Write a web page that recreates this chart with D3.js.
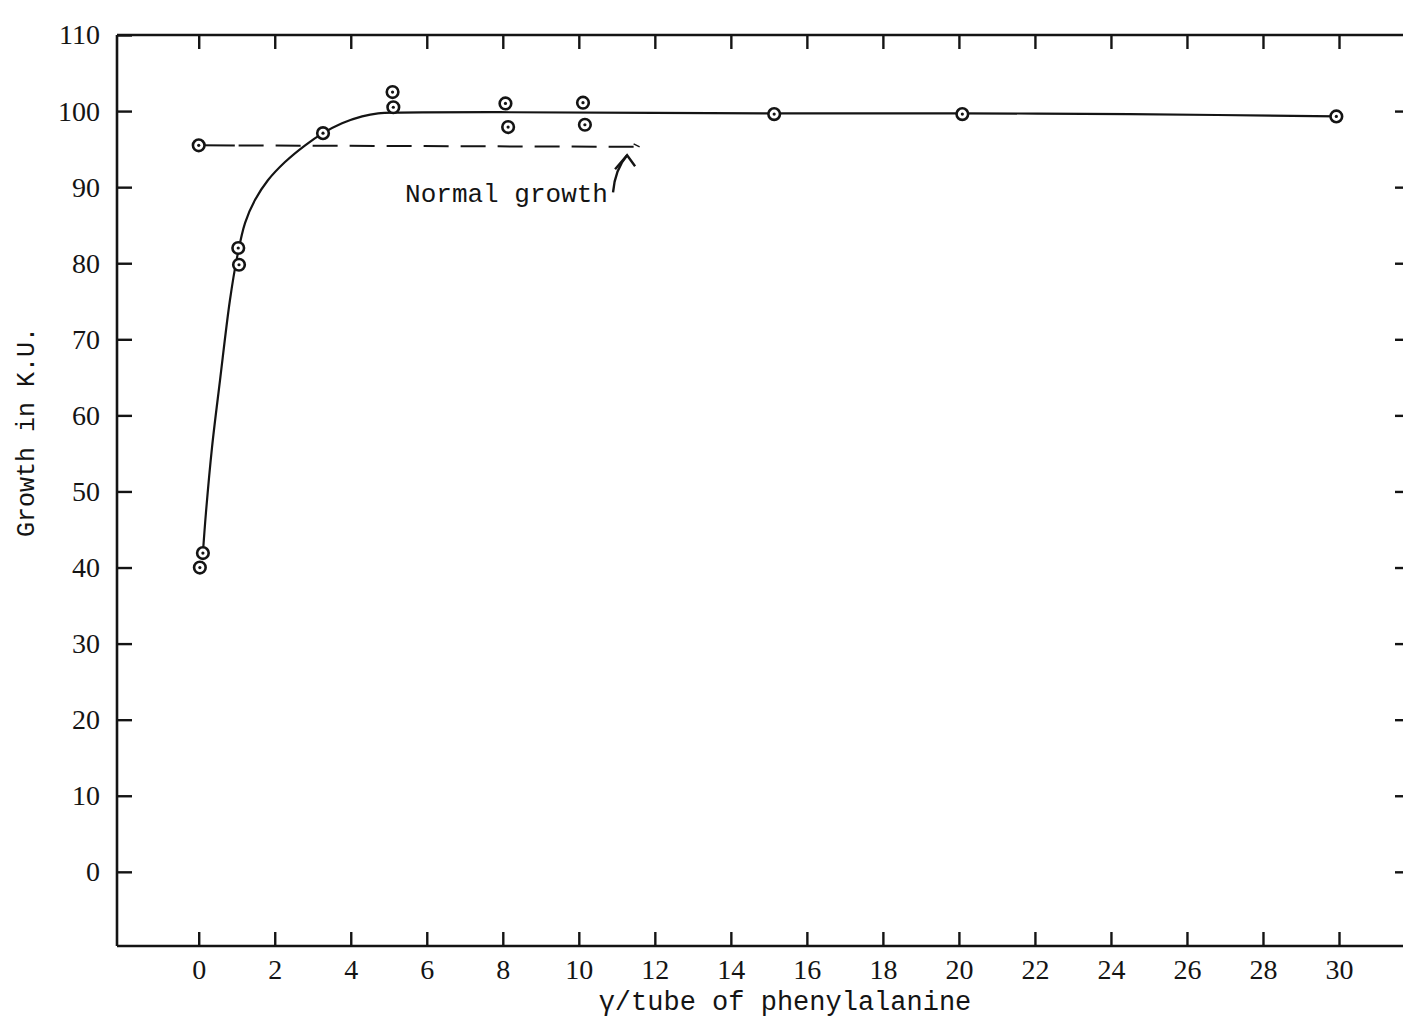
<!DOCTYPE html>
<html>
<head>
<meta charset="utf-8">
<script src="https://cdn.jsdelivr.net/npm/d3@7"></script>
<style>
  html, body { margin: 0; padding: 0; background: #fff; }
  svg { display: block; }
</style>
</head>
<body>
<svg id="chart" width="1403" height="1021"></svg>
<script>
// ---- data ----
const xTickValues = [0, 2, 4, 6, 8, 10, 12, 14, 16, 18, 20, 22, 24, 26, 28, 30];
const yTickValues = [0, 10, 20, 30, 40, 50, 60, 70, 80, 90, 100, 110];

// observed growth points (γ/tube, K.U.)
const pointX = [0.03, 0.11, 1.04, 1.06, 3.27, 5.10, 5.12, 8.07, 8.14, 10.11, 10.16, 15.14, 20.09, 29.93];
const pointY = [40.0, 41.9, 82.0, 79.8, 97.1, 102.5, 100.5, 101.0, 97.9, 101.1, 98.2, 99.6, 99.6, 99.3];

// hand-drawn fitted curve
const curveX = [0.11, 0.19, 0.35, 0.56, 0.82, 1.01, 1.22, 1.48, 1.82, 2.27, 2.80, 3.27, 3.77, 4.30, 4.72, 5.3, 7.93, 15.1, 20.06, 24.5, 29.95];
const curveY = [41.9, 47.2, 55.8, 64.6, 75.1, 80.8, 85.3, 88.3, 90.9, 93.3, 95.5, 97.1, 98.4, 99.3, 99.7, 99.8, 99.85, 99.7, 99.7, 99.6, 99.3];

// normal growth reference
const normalX = [0, 11.6];
const normalY = [95.5, 95.3];
const normalLabel = "Normal growth";

const xTitle = "γ/tube of phenylalanine";
const yTitle = "Growth in K.U.";

(function () {
// ---- layout ----
const mLeft = 117, mRight = 1403, mTop = 35, mBottom = 946;
const svg = d3.select("#chart");

const x = d3.scaleLinear().domain([-2.15, 30]).range([mLeft, 1339]);
const y = d3.scaleLinear().domain([-9.75, 110]).range([mBottom, mTop]);

const ink = "#141414";
const serif = "'Liberation Serif', 'Times New Roman', serif";
const mono = "'Liberation Mono', 'Courier New', monospace";

// frame lines
svg.append("line").attr("x1", mLeft).attr("x2", mLeft).attr("y1", mTop).attr("y2", mBottom)
  .attr("stroke", ink).attr("stroke-width", 2.6);
svg.append("line").attr("x1", mLeft).attr("x2", mRight).attr("y1", mTop).attr("y2", mTop)
  .attr("stroke", ink).attr("stroke-width", 2.6);
svg.append("line").attr("x1", mLeft).attr("x2", mRight).attr("y1", mBottom).attr("y2", mBottom)
  .attr("stroke", ink).attr("stroke-width", 2.6);

function styleAxis(g) {
  g.select(".domain").remove();
  g.selectAll(".tick line").attr("stroke", ink).attr("stroke-width", 2.4);
  g.selectAll(".tick text").attr("fill", ink).attr("font-family", serif).attr("font-size", 28);
}

// left axis (ticks point inward)
svg.append("g").attr("transform", `translate(${mLeft},0)`)
  .call(d3.axisLeft(y).tickValues(yTickValues).tickSize(-15).tickPadding(17).tickFormat(d3.format("d")))
  .call(styleAxis);

// right edge ticks (axis line is beyond the page)
svg.append("g").attr("transform", `translate(${mRight},0)`)
  .call(d3.axisLeft(y).tickValues(yTickValues.filter(v => v < 110)).tickSize(8).tickFormat(""))
  .call(styleAxis);

// bottom axis
svg.append("g").attr("transform", `translate(0,${mBottom})`)
  .call(d3.axisBottom(x).tickValues(xTickValues).tickSize(-14).tickPadding(13).tickFormat(d3.format("d")))
  .call(styleAxis);

// top ticks
svg.append("g").attr("transform", `translate(0,${mTop})`)
  .call(d3.axisTop(x).tickValues(xTickValues).tickSize(-14).tickFormat(""))
  .call(styleAxis);

// normal growth line: short solid lead then dashes
const nY = d3.scaleLinear().domain(normalX).range(normalY);
svg.append("line")
  .attr("x1", x(normalX[0])).attr("y1", y(normalY[0]))
  .attr("x2", x(0.95)).attr("y2", y(nY(0.95)))
  .attr("stroke", ink).attr("stroke-width", 2);
svg.append("line")
  .attr("x1", x(1.05)).attr("y1", y(nY(1.05)))
  .attr("x2", x(normalX[1])).attr("y2", y(normalY[1]))
  .attr("stroke", ink).attr("stroke-width", 2).attr("stroke-dasharray", "25 12");
svg.append("path")
  .attr("d", `M${x(normalX[1]) - 6},${y(normalY[1]) - 3} L${x(normalX[1])},${y(normalY[1])}`)
  .attr("stroke", ink).attr("stroke-width", 1.5).attr("fill", "none");

// label and curved arrow
svg.append("text").attr("x", x(5.43)).attr("y", y(88.0))
  .attr("font-family", mono).attr("font-size", 26).attr("fill", ink)
  .text(normalLabel);
const ax0 = x(10.9), ay0 = y(89.3), ax1 = x(11.27), ay1 = y(94.2);
svg.append("path")
  .attr("d", `M${ax0},${ay0} Q${ax0 + 2},${ay1 + 14} ${ax1},${ay1}`)
  .attr("stroke", ink).attr("stroke-width", 2.4).attr("fill", "none");
svg.append("path")
  .attr("d", `M${ax1 - 12},${ay1 + 14} L${ax1},${ay1} L${ax1 + 8},${ay1 + 11}`)
  .attr("stroke", ink).attr("stroke-width", 2.4).attr("fill", "none").attr("stroke-linejoin", "miter");

// fitted curve
const curveData = curveX.map((d, i) => [d, curveY[i]]);
svg.append("path")
  .datum(curveData)
  .attr("d", d3.line().x(d => x(d[0])).y(d => y(d[1])).curve(d3.curveCatmullRom.alpha(0.5)))
  .attr("fill", "none").attr("stroke", ink).attr("stroke-width", 2.2);

// points (plus the normal-growth control point)
const pts = pointX.map((d, i) => [d, pointY[i]]).concat([[normalX[0], normalY[0]]]);
const pg = svg.append("g");
pg.selectAll("circle.o").data(pts).enter().append("circle")
  .attr("class", "o")
  .attr("cx", d => x(d[0])).attr("cy", d => y(d[1])).attr("r", 5.8)
  .attr("fill", "#fff").attr("stroke", ink).attr("stroke-width", 2.6);
pg.selectAll("circle.i").data(pts).enter().append("circle")
  .attr("class", "i")
  .attr("cx", d => x(d[0])).attr("cy", d => y(d[1])).attr("r", 1.6)
  .attr("fill", ink);

// axis titles
svg.append("text")
  .attr("x", 785).attr("y", 1010)
  .attr("text-anchor", "middle")
  .attr("font-family", mono).attr("font-size", 27).attr("fill", ink)
  .text(xTitle);
svg.append("text")
  .attr("transform", `translate(34,432) rotate(-90)`)
  .attr("text-anchor", "middle")
  .attr("font-family", mono).attr("font-size", 25).attr("fill", ink)
  .text(yTitle);
})();
</script>
</body>
</html>
